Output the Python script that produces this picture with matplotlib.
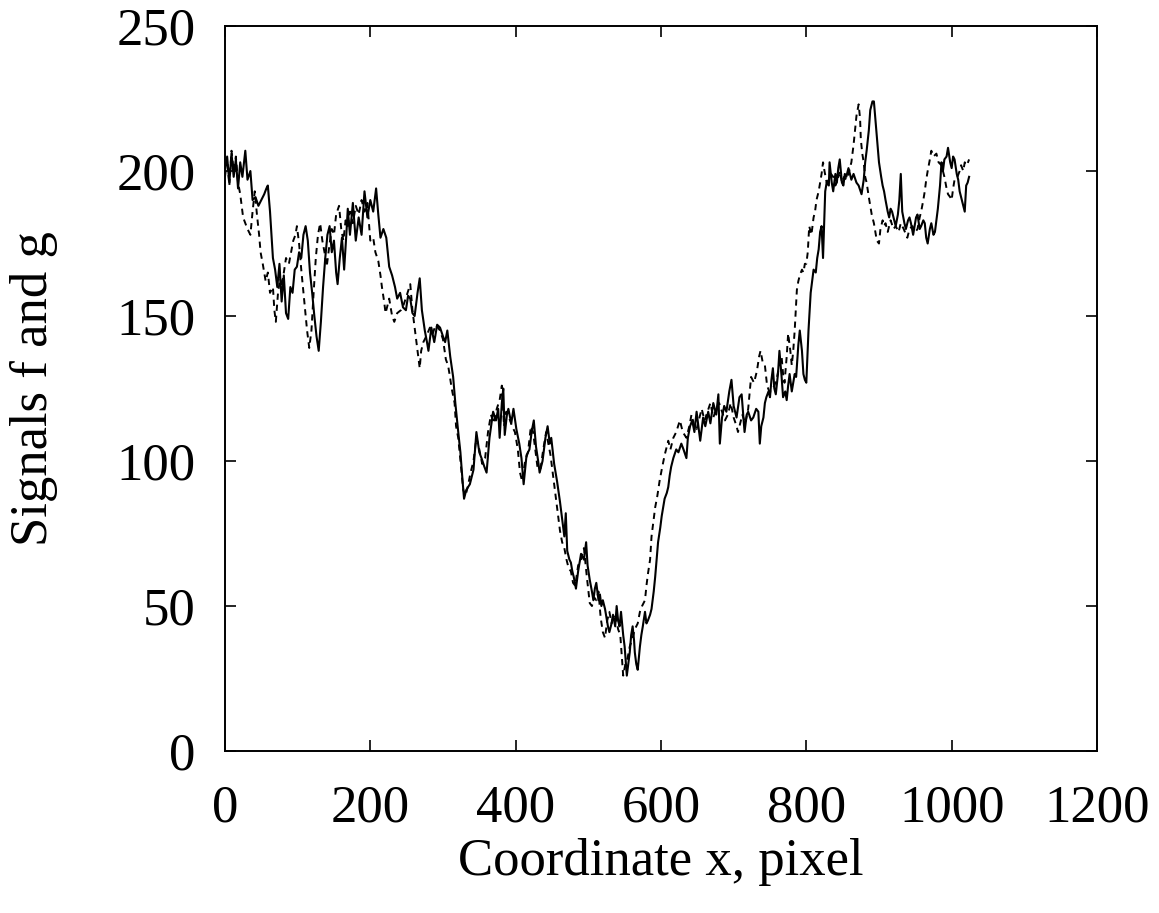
import numpy as np
import matplotlib
matplotlib.use("Agg")
import matplotlib.pyplot as plt

# signal f (solid)
f_x = [0, 3, 6, 9, 12, 15, 18, 21, 24, 28, 31, 35, 38, 42, 46, 50, 54, 57, 59, 62, 64, 66, 69, 72, 75, 78, 81, 84, 87, 90,
       93, 96, 99, 102, 105, 108, 111, 114, 117, 120, 123, 126, 129, 132, 135, 138, 141, 144, 147, 150, 153, 155, 158, 161,
       164, 167, 169, 172, 176, 180, 184, 188, 192, 196, 200, 204, 208, 211, 214, 218, 222, 226, 230, 234, 237, 241, 245,
       249, 252, 255, 258, 261, 265, 268, 271, 275, 278, 280, 284, 288, 292, 296, 300, 303, 306, 310, 314, 317, 321, 324,
       327, 329, 332, 337, 342, 346, 350, 353, 357, 360, 364, 369, 373, 376, 378, 381, 383, 385, 388, 390, 394, 397, 401,
       405, 408, 411, 415, 419, 422, 425, 428, 431, 433, 437, 441, 444, 447, 449, 453, 457, 461, 464, 467, 469, 471, 474,
       476, 478, 480, 483, 486, 490, 494, 497, 499, 502, 505, 507, 509, 511, 514, 516, 518, 520, 523, 525, 527, 529, 532,
       534, 537, 539, 541, 543, 545, 548, 550, 553, 555, 557, 559, 561, 563, 564, 566, 568, 571, 573, 575, 578, 580, 582,
       585, 587, 590, 592, 594, 596, 599, 601, 603, 605, 608, 610, 612, 614, 617, 621, 624, 628, 631, 635, 637, 640, 643,
       646, 649, 652, 654, 658, 661, 665, 668, 672, 676, 679, 681, 684, 687, 690, 694, 697, 700, 704, 708, 711, 715, 718,
       720, 724, 727, 731, 734, 736, 738, 741, 743, 745, 748, 750, 752, 754, 756, 758, 761, 763, 766, 768, 771, 773, 775,
       777, 780, 782, 784, 786, 789, 791, 794, 796, 798, 800, 803, 806, 808, 810, 813, 815, 817, 819, 821, 823, 824, 826,
       828, 831, 832, 835, 837, 840, 842, 844, 846, 849, 851, 853, 855, 858, 862, 865, 869, 872, 876, 879, 881, 883, 886,
       888, 891, 893, 895, 897, 900, 903, 905, 907, 909, 912, 914, 916, 918, 921, 923, 926, 928, 930, 932, 935, 937, 940,
       942, 944, 947, 949, 951, 953, 956, 958, 961, 963, 965, 967, 970, 972, 975, 977, 979, 981, 984, 986, 988, 990, 993,
       995, 998, 1000, 1002, 1004, 1007, 1009, 1011, 1013, 1016, 1018, 1020, 1022, 1024]
f_y = [200, 205, 196, 206, 198, 204, 194, 203, 198, 207, 197, 200, 190, 191, 188, 190, 192, 194, 195, 186, 178, 170, 166,
       160, 168, 155, 164, 151, 149, 160, 158, 166, 167, 172, 170, 178, 181, 176, 165, 158, 150, 143, 138, 148, 160, 170,
       178, 181, 172, 176, 165, 161, 170, 177, 166, 178, 187, 178, 189, 176, 184, 178, 193, 184, 190, 186, 194, 185, 177,
       180, 177, 167, 164, 160, 156, 158, 153, 152, 157, 156, 151, 150, 158, 163, 152, 145, 141, 138, 146, 141, 147, 146,
       143, 141, 145, 136, 129, 120, 110, 103, 93, 87, 90, 92, 97, 110, 103, 101, 98, 96, 108, 117, 114, 118, 108, 120,
       125, 109, 116, 118, 113, 118, 111, 106, 101, 92, 102, 104, 110, 114, 105, 100, 96, 100, 108, 112, 106, 108, 99, 93,
       86, 80, 74, 82, 69, 66, 65, 62, 60, 56, 62, 68, 66, 72, 64, 59, 55, 52, 56, 58, 52, 54, 50, 52, 49, 46, 43, 41, 44,
       47, 43, 50, 45, 43, 48, 40, 36, 26, 30, 34, 40, 43, 38, 34, 30, 28, 36, 40, 43, 48, 44, 45, 47, 49, 55, 60, 66, 72,
       77, 81, 84, 87, 89, 91, 95, 98, 101, 104, 103, 106, 104, 101, 108, 112, 114, 110, 117, 111, 107, 115, 112, 117, 113,
       120, 116, 123, 106, 115, 119, 117, 124, 128, 119, 115, 122, 123, 110, 116, 117, 114, 115, 118, 117, 106, 112, 115,
       120, 122, 124, 122, 128, 132, 125, 123, 130, 138, 129, 122, 124, 121, 126, 130, 124, 127, 130, 129, 140, 145, 138,
       130, 128, 127, 145, 158, 162, 166, 165, 170, 173, 179, 181, 170, 178, 193, 196, 195, 203, 196, 193, 199, 196, 201,
       204, 196, 195, 199, 198, 201, 197, 199, 196, 195, 192, 197, 203, 207, 214, 221, 224, 224, 218, 212, 203, 198, 195,
       193, 190, 186, 184, 187, 186, 183, 181, 185, 190, 199, 186, 182, 180, 183, 184, 182, 178, 181, 184, 185, 180, 181,
       183, 182, 177, 175, 180, 182, 178, 179, 183, 187, 195, 203, 200, 204, 205, 208, 203, 201, 205, 204, 199, 197, 193,
       191, 188, 186, 195, 196, 198]

# signal g (dashed)
g_x = [0, 3, 6, 9, 12, 15, 18, 21, 23, 25, 28, 31, 35, 38, 41, 44, 47, 49, 52, 56, 59, 62, 66, 68, 70, 73, 76, 78, 81, 84,
       88, 91, 94, 97, 99, 102, 105, 108, 111, 113, 116, 119, 122, 125, 128, 131, 134, 137, 140, 144, 147, 150, 153, 157,
       160, 163, 166, 169, 172, 176, 180, 184, 188, 192, 196, 200, 204, 207, 211, 214, 216, 219, 221, 224, 226, 230, 233,
       237, 242, 246, 250, 255, 258, 260, 264, 268, 270, 273, 277, 282, 286, 290, 296, 300, 304, 307, 309, 312, 316, 318,
       321, 324, 326, 328, 331, 334, 338, 342, 346, 350, 354, 358, 362, 366, 370, 374, 378, 381, 384, 387, 391, 395, 399,
       403, 406, 409, 413, 417, 421, 424, 427, 430, 434, 438, 442, 445, 448, 451, 455, 458, 461, 464, 467, 470, 473, 476,
       479, 482, 486, 490, 494, 498, 502, 505, 508, 511, 514, 517, 520, 523, 526, 529, 532, 535, 538, 541, 544, 546, 548,
       551, 554, 557, 561, 564, 568, 571, 574, 578, 580, 582, 585, 587, 590, 592, 595, 598, 601, 605, 608, 610, 613, 617,
       621, 626, 630, 635, 639, 642, 646, 649, 653, 656, 660, 664, 668, 672, 676, 680, 684, 688, 692, 696, 700, 704, 706,
       709, 712, 716, 720, 724, 728, 732, 735, 737, 740, 743, 746, 749, 752, 756, 759, 762, 766, 768, 770, 773, 775, 778,
       780, 782, 784, 787, 789, 791, 794, 796, 798, 800, 802, 804, 807, 810, 812, 814, 817, 819, 821, 823, 825, 828, 831,
       834, 837, 840, 843, 846, 849, 852, 855, 858, 862, 865, 867, 869, 872, 874, 875, 877, 879, 881, 883, 886, 888, 890,
       893, 895, 897, 900, 902, 905, 907, 909, 912, 916, 920, 923, 927, 930, 934, 939, 942, 946, 950, 953, 956, 958, 961,
       963, 965, 967, 970, 972, 975, 979, 982, 986, 988, 990, 993, 995, 998, 1000, 1002, 1004, 1008, 1011, 1013, 1016,
       1018, 1021, 1024]
g_y = [198, 204, 195, 207, 200, 205, 196, 192, 188, 184, 182, 180, 178, 186, 193, 185, 178, 172, 168, 162, 165, 158, 160,
       152, 148, 158, 163, 160, 165, 170, 168, 172, 176, 178, 181, 175, 166, 158, 150, 145, 139, 145, 158, 170, 178, 182,
       176, 172, 167, 175, 180, 178, 185, 188, 180, 176, 183, 181, 186, 182, 188, 185, 190, 186, 189, 176, 177, 172, 169,
       164, 160, 155, 151, 154, 156, 150, 148, 151, 152, 154, 157, 161, 152, 148, 140, 132, 138, 141, 143, 146, 144, 147,
       145, 142, 135, 133, 130, 125, 120, 112, 108, 100, 95, 90, 88, 91, 96, 100, 108, 104, 99, 101, 110, 116, 113, 118,
       121, 126, 112, 117, 115, 112, 110, 104, 96, 93, 100, 103, 112, 110, 104, 98, 97, 104, 110, 106, 102, 96, 88, 82, 76,
       72, 70, 66, 63, 62, 58, 57, 64, 66, 70, 60, 51, 50, 53, 52, 55, 46, 41, 39, 45, 48, 44, 47, 46, 42, 40, 33, 26, 30,
       32, 36, 39, 42, 44, 48, 50, 52, 57, 61, 66, 74, 80, 84, 88, 93, 97, 102, 105, 107, 104, 108, 110, 114, 110, 108,
       112, 116, 112, 111, 115, 118, 114, 117, 120, 115, 118, 120, 117, 114, 116, 120, 115, 112, 110, 113, 116, 113, 118,
       129, 127, 131, 136, 138, 134, 133, 126, 124, 124, 126, 128, 132, 136, 130, 127, 136, 144, 138, 133, 138, 145, 159,
       162, 164, 166, 165, 168, 168, 172, 181, 178, 184, 186, 190, 193, 196, 199, 203, 200, 196, 197, 199, 198, 195, 197,
       200, 196, 198, 197, 199, 203, 209, 214, 219, 223, 218, 211, 206, 203, 198, 196, 191, 188, 185, 182, 179, 176, 175,
       180, 183, 181, 182, 179, 183, 180, 181, 179, 182, 180, 177, 180, 181, 179, 180, 184, 186, 190, 193, 197, 200, 204,
       207, 205, 206, 203, 202, 200, 198, 194, 192, 191, 190, 194, 197, 198, 200, 202, 200, 203, 202, 204]

x_ticks = [0, 200, 400, 600, 800, 1000, 1200]
y_ticks = [0, 50, 100, 150, 200, 250]

plt.rcParams['font.family'] = ['Liberation Serif', 'DejaVu Serif']

fig = plt.figure(figsize=(11.59, 9.13), dpi=100)
ax = fig.add_axes([0.1941, 0.1774, 0.7524, 0.7941])

ax.plot(f_x, f_y, color="black", lw=1.5, linestyle="-")
ax.plot(g_x, g_y, color="black", lw=1.4, linestyle=(0, (3.2, 2.5)))

ax.set_xlim(0, 1200)
ax.set_ylim(0, 250)
ax.set_xticks(x_ticks)
ax.set_yticks(y_ticks)
ax.tick_params(direction="in", length=8, width=1.2, top=True, right=True,
               labelsize=38)
ax.tick_params(axis="x", pad=24)
ax.tick_params(axis="y", pad=21)
for s in ax.spines.values():
    s.set_linewidth(1.4)

ax.set_xlabel("Coordinate x, pixel", fontsize=38, labelpad=4)
ax.set_ylabel("Signals f and g", fontsize=38, labelpad=42)

fig.savefig("out.png", dpi=100)
